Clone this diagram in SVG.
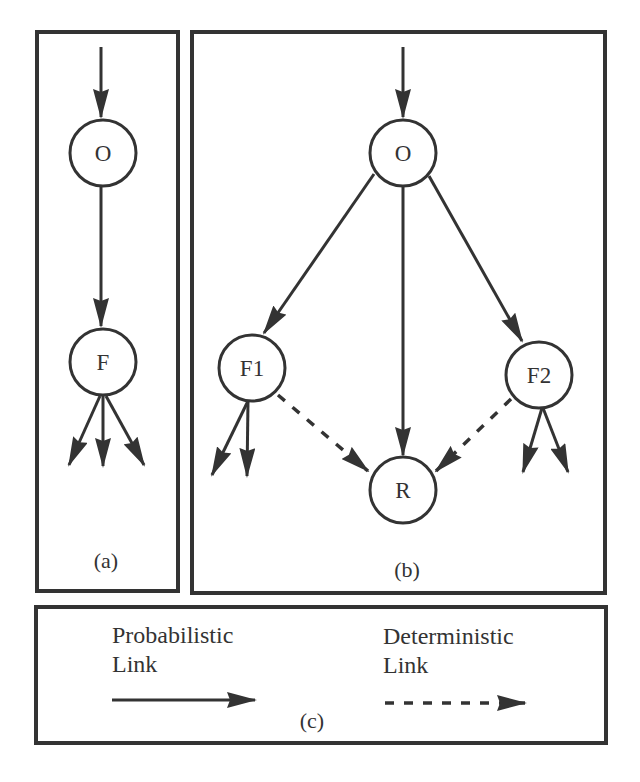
<svg xmlns="http://www.w3.org/2000/svg" width="640" height="782" viewBox="0 0 640 782">
<defs>
<style>
.panel{fill:none;stroke:#333;stroke-width:4}
.node circle{fill:#fff;stroke:#333;stroke-width:3}
.lbl{font-family:"Liberation Serif","Times New Roman",serif;font-size:23px;fill:#333;text-anchor:middle}
.cap{font-family:"Liberation Serif","Times New Roman",serif;font-size:22px;fill:#333;text-anchor:middle}
.leg{font-family:"Liberation Serif","Times New Roman",serif;font-size:24px;fill:#333}
.p{fill:none;stroke:#333;stroke-width:3;marker-end:url(#arr)}
.d{fill:none;stroke:#333;stroke-width:3.5;stroke-dasharray:9 10;marker-end:url(#arr)}
</style>
<marker id="arr" viewBox="0 0 30 16" markerWidth="30" markerHeight="16" refX="28" refY="8" orient="auto" markerUnits="userSpaceOnUse">
<path d="M0,0 L30,8 L0,16 L3,8 z" fill="#333"/>
</marker>
</defs>
<rect class="panel" x="37" y="32" width="141" height="559"/>
<rect class="panel" x="192" y="32" width="413" height="561"/>
<rect class="panel" x="36" y="607" width="570" height="136"/>
<g id="connectors">
<line class="p" x1="101" y1="47" x2="101" y2="117"/>
<line class="p" x1="101" y1="186" x2="101" y2="326"/>
<line class="p" x1="100" y1="396" x2="69" y2="465"/>
<line class="p" x1="103" y1="396" x2="103" y2="466"/>
<line class="p" x1="106" y1="396" x2="144" y2="465"/>
<line class="p" x1="403" y1="47" x2="403" y2="117"/>
<line class="p" x1="374" y1="174" x2="264" y2="333"/>
<line class="p" x1="403" y1="186" x2="403" y2="455"/>
<line class="p" x1="429" y1="176" x2="522" y2="341"/>
<line class="p" x1="248" y1="401" x2="212" y2="475"/>
<line class="p" x1="248" y1="401" x2="247" y2="476"/>
<line class="p" x1="542" y1="408" x2="523" y2="472"/>
<line class="p" x1="543" y1="408" x2="568" y2="472"/>
<line class="d" x1="278" y1="395" x2="368" y2="471"/>
<line class="d" x1="511" y1="399" x2="436" y2="471"/>
<line class="p" x1="112" y1="700" x2="255" y2="700"/>
<line class="d" x1="385" y1="703" x2="525" y2="703"/>
</g>
<g id="node-a-O" class="node"><circle cx="103" cy="153" r="33"/><text class="lbl" x="103" y="161">O</text></g>
<g id="node-a-F" class="node"><circle cx="103" cy="362" r="33"/><text class="lbl" x="103" y="370">F</text></g>
<g id="node-b-O" class="node"><circle cx="403" cy="153" r="33"/><text class="lbl" x="403" y="161">O</text></g>
<g id="node-b-F1" class="node"><circle cx="252" cy="368" r="33"/><text class="lbl" x="252" y="376">F1</text></g>
<g id="node-b-F2" class="node"><circle cx="539" cy="375" r="33"/><text class="lbl" x="539" y="383">F2</text></g>
<g id="node-b-R" class="node"><circle cx="403" cy="490" r="33"/><text class="lbl" x="403" y="498">R</text></g>
<text class="cap" x="106" y="568">(a)</text>
<text class="cap" x="407" y="577">(b)</text>
<text class="cap" x="312" y="728">(c)</text>
<text class="leg" x="112" y="643">Probabilistic</text>
<text class="leg" x="112" y="672">Link</text>
<text class="leg" x="383" y="644">Deterministic</text>
<text class="leg" x="383" y="673">Link</text>
</svg>
